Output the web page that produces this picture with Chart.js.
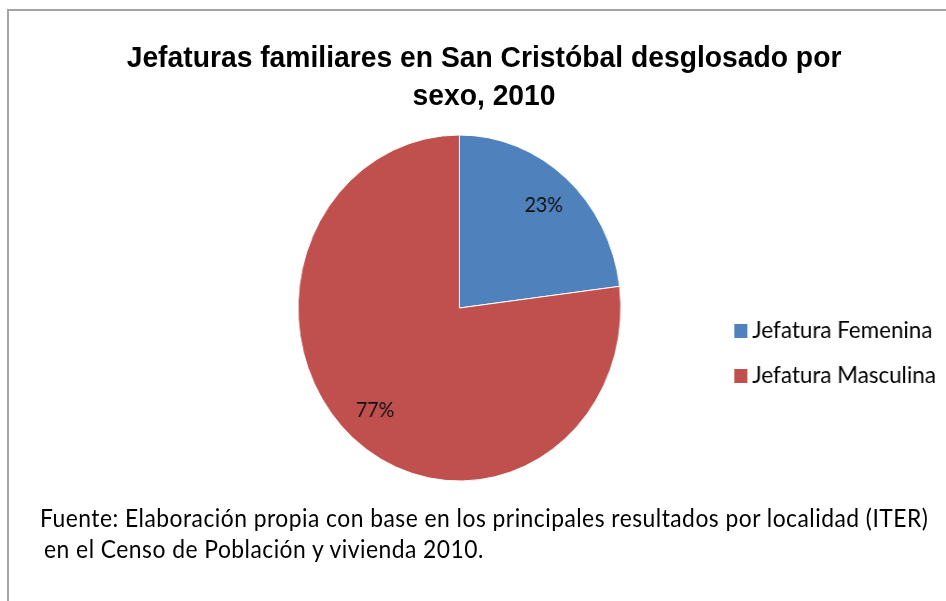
<!DOCTYPE html>
<html>
<head>
<meta charset="utf-8">
<script src="https://cdn.jsdelivr.net/npm/chart.js@4.4.0/dist/chart.umd.min.js"></script>
<style>
  html, body { margin: 0; padding: 0; background: #fff; overflow: hidden; width: 946px; height: 601px; }
  #frame { position: absolute; left: 7px; top: 9px; width: 980px; height: 620px;
           border-left: 2px solid #a4a4a4; border-top: 2px solid #a4a4a4; }
  /* the whole sheet is drawn slightly narrow, as in the original workbook export */
  #stage { position: absolute; left: 0; top: 0; width: 1100px; height: 601px;
           transform: scaleX(0.933); transform-origin: 0 0; }
  #title { position: absolute; left: 0; top: 37.6px; width: 1037.6px; text-align: center;
           font: bold 30.3px/38px "Liberation Sans", Arial, sans-serif; color: #000; }
  #chart { position: absolute; left: 0; top: 0; }
  #note { position: absolute; left: 42.9px; top: 501.5px; white-space: nowrap; letter-spacing: 0.5px;
          font: 24.5px/31.5px Lato, "Open Sans", sans-serif; color: #000; }
  #note .second { padding-left: 4.3px; }
</style>
</head>
<body>
<div id="frame"></div>
<div id="stage">
  <div id="title"></div>
  <canvas id="chart" width="1100" height="601"></canvas>
  <div id="note"></div>
</div>
<script>
// Household heads in San Cristóbal by sex, 2010 (percent)
const titleLines = ['Jefaturas familiares en San Cristóbal desglosado por', 'sexo, 2010'];
const categories = ['Jefatura Femenina', 'Jefatura Masculina'];
const shares = [23, 77];
const sourceLines = [
  'Fuente: Elaboración propia con base en los principales resultados por localidad (ITER)',
  'en el Censo de Población y vivienda 2010.'
];

const sliceColors = ['#4F81BD', '#C0504D'];
const LEGEND_LEFT = 773.3;   // left edge of the legend column, canvas px

document.getElementById('title').innerHTML = titleLines.join('<br>');
document.getElementById('note').innerHTML =
  '<div>' + sourceLines[0] + '</div><div class="second">' + sourceLines[1] + '</div>';

// square legend swatches
function swatch(color) {
  const c = document.createElement('canvas');
  c.width = 14; c.height = 14;
  const g = c.getContext('2d');
  g.fillStyle = color;
  g.fillRect(0, 0, 14, 14);
  return c;
}
const swatches = sliceColors.map(swatch);

// percentage text inside each slice
const sliceLabels = {
  id: 'sliceLabels',
  afterDatasetsDraw(chart) {
    const ctx = chart.ctx;
    const meta = chart.getDatasetMeta(0);
    ctx.save();
    ctx.font = '21px Lato';
    ctx.fillStyle = '#111';
    ctx.textAlign = 'center';
    ctx.textBaseline = 'middle';
    meta.data.forEach((arc, i) => {
      const p = arc.getProps(['x', 'y', 'startAngle', 'endAngle', 'outerRadius'], true);
      const mid = (p.startAngle + p.endAngle) / 2;
      const r = p.outerRadius * 0.79;
      ctx.fillText(shares[i] + '%', p.x + Math.cos(mid) * r, p.y + Math.sin(mid) * r);
    });
    ctx.restore();
  }
};

function draw() {
  const chart = new Chart(document.getElementById('chart'), {
    type: 'pie',
    data: {
      labels: categories,
      datasets: [{
        data: shares,
        backgroundColor: sliceColors,
        borderColor: '#ffffff',
        borderWidth: 1,
        radius: 173
      }]
    },
    options: {
      responsive: false,
      animation: false,
      devicePixelRatio: 1,
      radius: 173,
      layout: { padding: { left: 211.5, right: 80, top: 135, bottom: 120 } },
      plugins: {
        tooltip: { enabled: false },
        legend: {
          position: 'right',
          align: 'center',
          title: { display: true, text: '', font: { size: 10, lineHeight: 1 }, padding: { top: 0, bottom: 80.5 } },
          labels: {
            usePointStyle: true,
            pointStyleWidth: 0.01,
            padding: 21,
            color: '#000',
            font: { family: 'Lato', size: 24 },
            generateLabels(chart) {
              return chart.data.labels.map((text, i) => ({
                text,
                index: i,
                hidden: false,
                fillStyle: sliceColors[i],
                strokeStyle: sliceColors[i],
                lineWidth: 0,
                fontColor: '#000',
                pointStyle: swatches[i]
              }));
            }
          }
        }
      }
    },
    plugins: [sliceLabels]
  });
  // keep the legend column (and so the plot area) at a fixed left edge
  const delta = chart.legend.left - LEGEND_LEFT;
  if (Math.abs(delta) > 0.1) {
    chart.options.layout.padding.right += delta;
    chart.update();
  }
}

if (document.fonts && document.fonts.load) {
  Promise.all([document.fonts.load('24px Lato'), document.fonts.load('21px Lato')]).then(draw, draw);
} else {
  draw();
}
</script>
</body>
</html>
